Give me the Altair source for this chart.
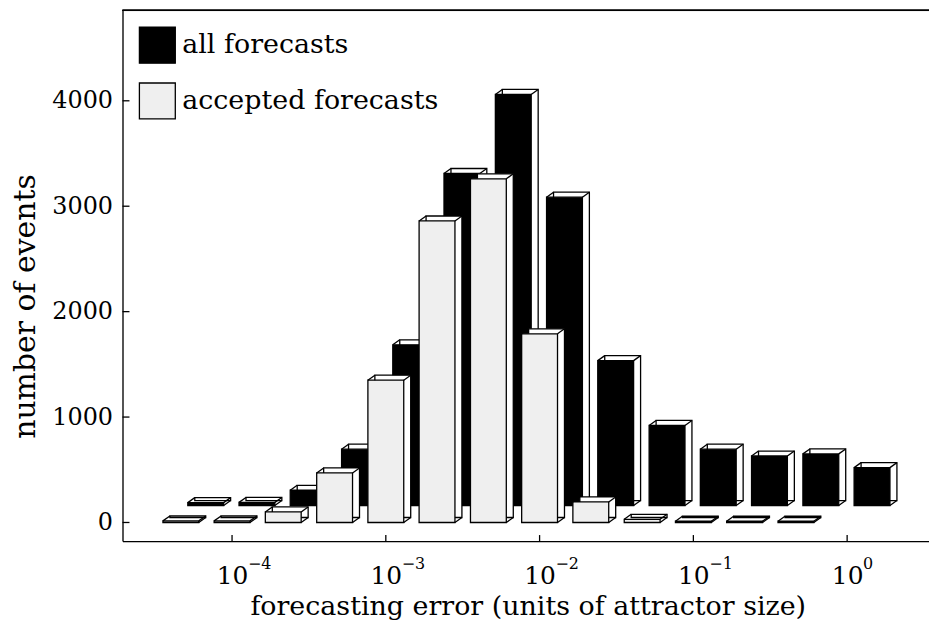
import altair as alt
import pandas as pd

# ---- data ----
bin_log10 = [-4.333, -4.0, -3.667, -3.333, -3.0, -2.667, -2.333, -2.0,
             -1.667, -1.333, -1.0, -0.667, -0.333, 0.0]
all_forecasts = [28, 30, 145, 535, 1525, 3150, 3900, 2925, 1375, 760, 535, 470, 490, 360]
accepted_forecasts = [15, 15, 100, 470, 1350, 2860, 3260, 1790, 195, 30, 12, 12, 12, 0]
series_names = ["all forecasts", "accepted forecasts"]
x_tick_values = [1e-4, 1e-3, 1e-2, 1e-1, 1.0]
x_tick_base = "10"
x_tick_exponents = ["\u22124", "\u22123", "\u22122", "\u22121", "0"]
y_tick_values = [0, 1000, 2000, 3000, 4000]

# ---- styling ----
FONT = "DejaVu Serif"
W, H = 810, 533
BW = 36          # bar face width (px)
DX, DY = 7, -5   # depth of each 3-D box (px)
ROW_DX, ROW_DY = 25, -17  # offset of back row (px)
LIGHT = "#efefef"
SW = 1.3

rows = []
for name, vals in zip(series_names, [all_forecasts, accepted_forecasts]):
    for b, v in zip(bin_log10, vals):
        rows.append({"err": 10 ** b, "count": v, "series": name, "zero": 0})
df = pd.DataFrame(rows)

xscale = alt.Scale(type="log", domain=[10 ** -4.68, 10 ** 0.5], nice=False)
yscale = alt.Scale(domain=[-176, 4858], nice=False, zero=False)

X = alt.X("err:Q", scale=xscale,
          axis=alt.Axis(values=x_tick_values, labelExpr=f"'{x_tick_base}'", tickSize=0,
                        labelPadding=43, labelBaseline="alphabetic", labelAlign="center",
                        labelFontSize=25, labelFont=FONT,
                        titleFontSize=27, titleFont=FONT, titleFontWeight="normal",
                        titleY=74, titleBaseline="alphabetic", titleX=W / 2 + 2,
                        titleAlign="center", grid=False, domainColor="black",
                        domainWidth=SW, labelColor="black", titleColor="black"),
          title="forecasting error (units of attractor size)")
Y = alt.Y("count:Q", scale=yscale,
          axis=alt.Axis(values=y_tick_values, format="d", tickSize=0, labelPadding=10,
                        labelFontSize=24, labelFont=FONT, titleFontSize=30,
                        titleFont=FONT, titleFontWeight="normal", grid=False,
                        domainColor="black", domainWidth=SW, labelColor="black",
                        titleColor="black", titleX=-88, titleY=297,
                        titleAngle=270, titleAlign="center",
                        titleBaseline="alphabetic"),
          title="number of events")

color = alt.Color("series:N",
                  scale=alt.Scale(domain=series_names, range=["black", LIGHT]),
                  legend=alt.Legend(title=None, orient="none", legendX=16, legendY=16,
                                    symbolType="square", symbolSize=1300,
                                    symbolStrokeColor="black", symbolStrokeWidth=SW,
                                    symbolOpacity=1, labelFont=FONT, labelFontSize=27,
                                    labelColor="black", labelOffset=6, rowPadding=14,
                                    labelLimit=400))


def box_row(name, ox, oy):
    base = alt.Chart(df).transform_filter(
        (alt.datum.series == name) & (alt.datum["count"] > 0))
    shadow = base.mark_bar(width=BW, fill="white", stroke="black", strokeWidth=SW,
                           xOffset=ox + DX, yOffset=oy + DY, y2Offset=oy + DY).encode(
        x=X, y=Y, y2="zero:Q")
    face = base.mark_bar(width=BW, stroke="black", strokeWidth=SW, opacity=1,
                         xOffset=ox, yOffset=oy, y2Offset=oy).encode(
        x=X, y=Y, y2="zero:Q", color=color)
    edges = []
    for cx, yf in [(-BW / 2, "count:Q"), (BW / 2, "count:Q"), (BW / 2, "zero:Q")]:
        edges.append(base.mark_rule(color="black", strokeWidth=SW,
                                    xOffset=ox + cx, x2Offset=ox + cx + DX,
                                    yOffset=oy, y2Offset=oy + DY).encode(
            x=X, x2="err:Q", y=alt.Y(yf, scale=yscale), y2=yf))
    return [shadow, face] + edges


layers = box_row(series_names[0], ROW_DX, ROW_DY) + box_row(series_names[1], 0, 0)

ytick_df = pd.DataFrame({"count": y_tick_values})
xtick_df = pd.DataFrame({"err": x_tick_values, "exp": x_tick_exponents})
yticks = alt.Chart(ytick_df).mark_rule(color="black", strokeWidth=SW).encode(
    y=alt.Y("count:Q", scale=yscale), x=alt.value(0), x2=alt.value(7))
xticks = alt.Chart(xtick_df).mark_rule(color="black", strokeWidth=SW).encode(
    x=alt.X("err:Q", scale=xscale), y=alt.value(H), y2=alt.value(H - 6))
exponents = alt.Chart(xtick_df).mark_text(
    align="left", baseline="alphabetic", dx=16, font=FONT, fontSize=16, color="black"
).encode(x=alt.X("err:Q", scale=xscale), y=alt.value(H + 28), text="exp:N")
topline = alt.Chart(ytick_df).mark_rule(color="black", strokeWidth=SW).encode(
    x=alt.value(0), x2=alt.value(W), y=alt.value(0))

chart = alt.layer(*layers, yticks, xticks, exponents, topline).properties(
    width=W, height=H,
    padding={"left": 115, "top": 1, "right": 0, "bottom": 88},
    autosize=alt.AutoSizeParams(type="none"),
).configure_view(strokeWidth=0).configure(background="white")

chart.save("out.html", embed_options={"renderer": "svg", "actions": False})
